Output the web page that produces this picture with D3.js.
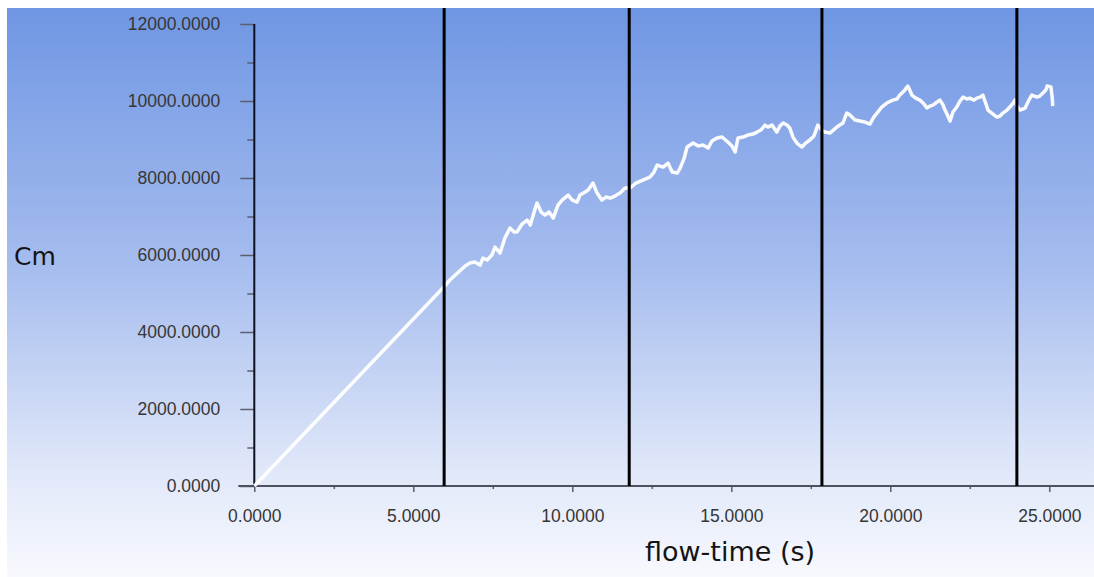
<!DOCTYPE html>
<html>
<head>
<meta charset="utf-8">
<script src="https://cdn.jsdelivr.net/npm/d3@7"></script>
<style>
  html, body { margin: 0; padding: 0; background: #ffffff; }
  svg { display: block; }
  .tickLabel { font-family: "Liberation Sans", Arial, sans-serif; font-size: 17.5px; fill: #363636; }
  .axisTitle { font-family: "DejaVu Sans", sans-serif; fill: #141414; }
</style>
</head>
<body>
<svg id="chart" width="1094" height="577"></svg>
<script>
/// data
var flowTime = [0, 5.93, 6.15, 6.63, 6.78, 6.93, 7.10, 7.19, 7.32, 7.47, 7.57, 7.73, 7.88, 8.04, 8.17, 8.26,
  8.42, 8.58, 8.68, 8.80, 8.89, 9.02, 9.14, 9.27, 9.40, 9.55, 9.68, 9.87, 10.00, 10.15, 10.24, 10.35,
  10.50, 10.65, 10.78, 10.93, 11.06, 11.19, 11.34, 11.50, 11.66, 11.82, 12.00, 12.22, 12.44, 12.57,
  12.67, 12.86, 13.01, 13.14, 13.30, 13.39, 13.52, 13.61, 13.80, 13.96, 14.11, 14.27, 14.39, 14.55,
  14.71, 14.89, 15.02, 15.12, 15.21, 15.37, 15.52, 15.68, 15.81, 15.93, 16.06, 16.15, 16.28, 16.43,
  16.53, 16.63, 16.75, 16.84, 16.94, 17.06, 17.22, 17.34, 17.47, 17.60, 17.72, 17.85, 17.94, 18.10,
  18.32, 18.51, 18.63, 18.73, 18.89, 19.04, 19.20, 19.36, 19.48, 19.58, 19.73, 19.89, 20.08, 20.21,
  20.30, 20.43, 20.55, 20.61, 20.68, 20.80, 20.93, 21.06, 21.15, 21.25, 21.34, 21.47, 21.56, 21.66,
  21.72, 21.81, 21.88, 21.97, 22.09, 22.19, 22.29, 22.41, 22.50, 22.63, 22.72, 22.82, 22.91, 23.01,
  23.07, 23.19, 23.35, 23.45, 23.54, 23.67, 23.76, 23.86, 23.92, 23.98, 24.08, 24.24, 24.36, 24.45,
  24.61, 24.70, 24.80, 24.89, 24.93, 25.05, 25.09, 25.11];

var cmValues = [0, 5142, 5350, 5713, 5791, 5817, 5739, 5921, 5869, 5999, 6207, 6051, 6441, 6700, 6596, 6596,
  6804, 6908, 6778, 7116, 7350, 7116, 7038, 7116, 6960, 7298, 7427, 7557, 7427, 7375, 7557, 7609,
  7687, 7869, 7609, 7427, 7505, 7479, 7531, 7609, 7739, 7739, 7869, 7947, 8025, 8155,
  8336, 8284, 8388, 8155, 8129, 8258, 8518, 8804, 8908, 8830, 8856, 8778, 8960, 9038,
  9064, 8934, 8830, 8674, 9038, 9064, 9115, 9141, 9193, 9245, 9375, 9323, 9375, 9193,
  9349, 9427, 9375, 9297, 9063, 8908, 8804, 8908, 8986, 9090, 9375, 9245, 9193, 9167,
  9323, 9427, 9687, 9635, 9505, 9479, 9453, 9401, 9583, 9687, 9843, 9947, 10024, 10050,
  10154, 10258, 10388, 10284, 10154, 10076, 10024, 9920, 9817, 9869, 9895, 9973, 10024, 9895,
  9765, 9609, 9479, 9713, 9843, 9998, 10102, 10050, 10076, 10024, 10076, 10102, 10154, 9920,
  9765, 9687, 9583, 9609, 9687, 9765, 9843, 9947, 10024, 9869, 9765, 9817, 10024, 10154,
  10102, 10128, 10206, 10284, 10388, 10362, 10102, 9869];

/// black vertical marker lines (flow-time)
var markerTimes = [5.97, 11.79, 17.85, 23.98];

/// tick values
var xMajorTicks = [0, 5, 10, 15, 20, 25],
    xMinorTicks = [2.5, 7.5, 12.5, 17.5, 22.5],
    yMajorTicks = [0, 2000, 4000, 6000, 8000, 10000, 12000],
    yMinorTicks = [1000, 3000, 5000, 7000, 9000, 11000];

var xTitle = "flow-time (s)",
    yTitle = "Cm";

/// dimensions
var W = 1094, H = 577;
var bg = {left: 7, top: 8};
var plot = {left: 254.3, right: 1049.3, top: 24, bottom: 486};

var svg = d3.select("#chart");

/// background gradient
var defs = svg.append("defs");
var grad = defs.append("linearGradient")
               .attr("id", "bgGrad")
               .attr("x1", 0).attr("x2", 0)
               .attr("y1", 0).attr("y2", 1);
[["0", "#6f96e3"], ["0.45", "#a5bcee"], ["0.82", "#e1e8f9"], ["1", "#f8f9fe"]].forEach(function(s) {
  grad.append("stop").attr("offset", s[0]).attr("stop-color", s[1]);
});

svg.append("rect")
   .attr("x", bg.left)
   .attr("y", bg.top)
   .attr("width", W - bg.left)
   .attr("height", H - bg.top)
   .style("fill", "url(#bgGrad)");

/// scales
var x = d3.scaleLinear().domain([0, 25]).range([plot.left, plot.right]);
var y = d3.scaleLinear().domain([0, 12000]).range([plot.bottom, plot.top]);

var fmt = d3.format(".4f");

// y axis minor ticks
svg.append("g")
   .attr("transform", "translate(" + plot.left + ",0)")
   .call(d3.axisLeft(y).tickValues(yMinorTicks).tickSize(7).tickFormat(""))
   .call(g => g.select(".domain").remove())
   .call(g => g.selectAll("line").style("stroke", "#5a5f6e").style("stroke-width", 1.5));

// y axis major ticks
var yAxisG = svg.append("g")
   .attr("transform", "translate(" + plot.left + ",0)")
   .call(d3.axisLeft(y).tickValues(yMajorTicks).tickSize(14).tickPadding(20).tickFormat(fmt));
yAxisG.select(".domain").remove();
yAxisG.selectAll("line").style("stroke", "#5a5f6e").style("stroke-width", 1.5);
yAxisG.selectAll("text").attr("class", "tickLabel").attr("font-size", null).attr("font-family", null);

// x axis minor ticks
svg.append("g")
   .attr("transform", "translate(0," + plot.bottom + ")")
   .call(d3.axisBottom(x).tickValues(xMinorTicks).tickSize(3).tickFormat(""))
   .call(g => g.select(".domain").remove())
   .call(g => g.selectAll("line").style("stroke", "#5a5f6e").style("stroke-width", 1.5));

// x axis major ticks
var xAxisG = svg.append("g")
   .attr("transform", "translate(0," + plot.bottom + ")")
   .call(d3.axisBottom(x).tickValues(xMajorTicks).tickSize(6).tickPadding(18).tickFormat(fmt));
xAxisG.select(".domain").remove();
xAxisG.selectAll("line").style("stroke", "#5a5f6e").style("stroke-width", 1.5);
xAxisG.selectAll("text").attr("class", "tickLabel").attr("font-size", null).attr("font-family", null);

// x axis line (runs past both ends of the range)
svg.append("line")
   .attr("x1", plot.left - 16)
   .attr("x2", W)
   .attr("y1", plot.bottom)
   .attr("y2", plot.bottom)
   .style("stroke", "#4e5260")
   .style("stroke-width", 2);

// y axis line
svg.append("line")
   .attr("x1", plot.left)
   .attr("x2", plot.left)
   .attr("y1", y(12000))
   .attr("y2", y(0))
   .style("stroke", "#0d1020")
   .style("stroke-width", 2);

/// data line
var lineData = flowTime.map((t, i) => ({t: t, v: cmValues[i]}));

svg.append("path")
   .datum(lineData)
   .attr("d", d3.line().x(d => x(d.t)).y(d => y(d.v)))
   .style("fill", "none")
   .style("stroke", "#ffffff")
   .style("stroke-width", 3.5)
   .style("stroke-linejoin", "round")
   .style("opacity", 0.95);

/// vertical markers
svg.selectAll(".marker")
   .data(markerTimes)
   .enter()
   .append("line")
   .attr("class", "marker")
   .attr("x1", d => x(d))
   .attr("x2", d => x(d))
   .attr("y1", bg.top)
   .attr("y2", plot.bottom)
   .style("stroke", "#000000")
   .style("stroke-width", 3);

/// titles
svg.append("text")
   .attr("class", "axisTitle")
   .attr("x", 14)
   .attr("y", 265)
   .style("font-size", "25px")
   .text(yTitle);

svg.append("text")
   .attr("class", "axisTitle")
   .attr("x", 645)
   .attr("y", 561)
   .style("font-size", "27px")
   .text(xTitle);
</script>
</body>
</html>
